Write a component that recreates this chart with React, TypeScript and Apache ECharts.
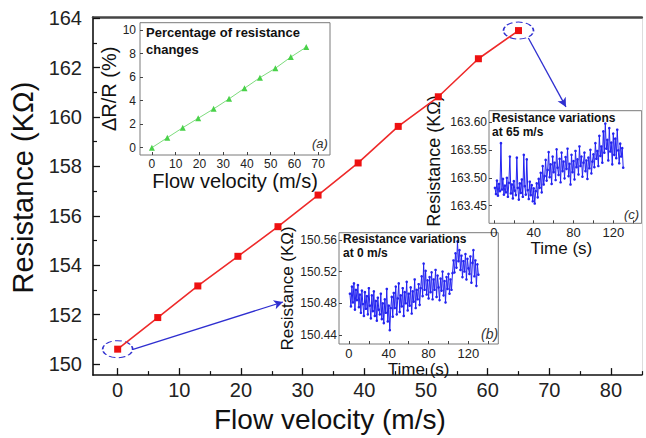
import React, { useEffect, useRef } from 'react';
import * as echarts from 'echarts';

// ---------- data ----------
const velocity = [0, 6.5, 13, 19.5, 26, 32.5, 39, 45.5, 52, 58.5, 65];
const resistance = [150.6, 151.88, 153.16, 154.36, 155.56, 156.84, 158.14, 159.62, 160.82, 162.36, 163.5];
const deltaPct = [0, 0.85, 1.7, 2.5, 3.3, 4.15, 5.05, 5.95, 6.75, 7.7, 8.55];

const resistanceAt0 = [
  150.492, 150.476, 150.501, 150.481, 150.505, 150.472, 150.497, 150.484, 150.503, 150.475,
  150.491, 150.468, 150.496, 150.479, 150.464, 150.494, 150.473, 150.489, 150.466, 150.499,
  150.477, 150.461, 150.490, 150.470, 150.495, 150.464, 150.483, 150.458, 150.487, 150.472,
  150.466, 150.492, 150.460, 150.480, 150.455, 150.485, 150.468, 150.498, 150.457, 150.477,
  150.446, 150.474, 150.488, 150.463, 150.493, 150.474, 150.501, 150.466, 150.486, 150.505,
  150.469, 150.490, 150.476, 150.499, 150.464, 150.494, 150.480, 150.507, 150.471, 150.492,
  150.477, 150.500, 150.467, 150.495, 150.482, 150.510, 150.474, 150.497, 150.485, 150.504,
  150.478, 150.499, 150.514, 150.489, 150.530, 150.497, 150.521, 150.491, 150.509, 150.486,
  150.513, 150.494, 150.519, 150.485, 150.510, 150.497, 150.522, 150.488, 150.515, 150.500,
  150.484, 150.511, 150.496, 150.520, 150.490, 150.508, 150.481, 150.513, 150.498, 150.517,
  150.492, 150.510, 150.497, 150.518, 150.534, 150.519, 150.543, 150.525, 150.558, 150.533,
  150.547, 150.522, 150.540, 150.513, 150.533, 150.520, 150.542, 150.510, 150.536, 150.524,
  150.517, 150.539, 150.506, 150.531, 150.547, 150.514, 150.534, 150.502, 150.529, 150.516,
];

const resistanceAt65 = [
  163.482, 163.471, 163.495, 163.468, 163.489, 163.476, 163.562, 163.479, 163.498, 163.470,
  163.486, 163.474, 163.500, 163.466, 163.491, 163.538, 163.472, 163.488, 163.463, 163.494,
  163.477, 163.469, 163.536, 163.482, 163.461, 163.490, 163.473, 163.497, 163.466, 163.541,
  163.485, 163.470, 163.533, 163.478, 163.462, 163.493, 163.469, 163.487, 163.458, 163.481,
  163.454, 163.476, 163.490, 163.465, 163.498, 163.482, 163.509, 163.474, 163.521, 163.488,
  163.503, 163.532, 163.495, 163.514, 163.546, 163.501, 163.524, 163.489, 163.538, 163.510,
  163.527, 163.496, 163.551, 163.518, 163.505, 163.534, 163.492, 163.545, 163.512, 163.529,
  163.499, 163.537, 163.516, 163.552, 163.503, 163.525, 163.488, 163.541, 163.510, 163.530,
  163.497, 163.548, 163.519, 163.533, 163.506, 163.556, 163.521, 163.538, 163.502, 163.527,
  163.545, 163.512, 163.531, 163.498, 163.536, 163.517, 163.550, 163.508, 163.529, 163.542,
  163.519, 163.562, 163.534, 163.548, 163.521, 163.575, 163.539, 163.556, 163.527, 163.583,
  163.545, 163.597, 163.552, 163.568, 163.531, 163.589, 163.547, 163.563, 163.524, 163.579,
  163.541, 163.570, 163.535, 163.586, 163.549, 163.526, 163.561, 163.538, 163.553, 163.518,
];

// sampling clock (1 sample per second)
const sampleTimes = resistanceAt0.map((_, i) => i + 1);

// ---------- ticks ----------
const xMainTicks = [0, 10, 20, 30, 40, 50, 60, 70, 80];
const xMainMinor = [5, 15, 25, 35, 45, 55, 65, 75, 85];
const yMainTicks = [150, 152, 154, 156, 158, 160, 162, 164];
const yMainMinor = [151, 153, 155, 157, 159, 161, 163];
const xATicks = [0, 10, 20, 30, 40, 50, 60, 70];
const yATicks = [0, 2, 4, 6, 8, 10];
const timeLabels = [0, 40, 80, 120];
const timeTicks = [0, 20, 40, 60, 80, 100, 120, 140];
const yBTicks = [150.44, 150.48, 150.52, 150.56];
const yCTicks = [163.45, 163.5, 163.55, 163.6];

// annotation arrows (data coordinates of the main plot)
const arrowLinks = [
  [[2.5, 150.59], [26.8, 152.51]],
  [[66.6, 163.2], [72.7, 160.41]],
];

const FONT = 'Liberation Sans, Arial, Helvetica, sans-serif';
const BLUE = '#2424f0';
const ANNOT = '#2f2fd0';

function insetX(gridIndex: number, min: number, max: number, labels: number[], ticks: number[], name: string, nameSize: number, nameGap: number, labelSize: number, padRight = 0) {
  return {
    gridIndex, type: 'value', min, max, position: 'bottom',
    axisLine: { show: false, onZero: false },
    splitLine: { show: false },
    axisTick: { show: true, inside: true, length: 3, customValues: ticks, lineStyle: { color: '#444', width: 1 } },
    axisLabel: { customValues: labels, fontSize: labelSize, color: '#222', margin: 3, fontFamily: FONT },
    name, nameLocation: 'middle', nameGap,
    nameTextStyle: { fontSize: nameSize, color: '#111', fontFamily: FONT, padding: [0, padRight, 0, 0] },
  };
}

function insetY(gridIndex: number, min: number, max: number, ticks: number[], name: string, nameSize: number, nameGap: number, labelSize: number, decimals: number, padLeft = 0, labelMargin = 3) {
  return {
    gridIndex, type: 'value', min, max, position: 'left',
    axisLine: { show: false, onZero: false },
    splitLine: { show: false },
    axisTick: { show: true, inside: true, length: 3, customValues: ticks, lineStyle: { color: '#444', width: 1 } },
    axisLabel: {
      customValues: ticks, fontSize: labelSize, color: '#222', margin: labelMargin, fontFamily: FONT,
      formatter: (v: number) => v.toFixed(decimals),
    },
    name, nameLocation: 'middle', nameGap,
    nameTextStyle: { fontSize: nameSize, color: '#111', fontFamily: FONT, padding: [0, 0, 0, padLeft] },
  };
}

function buildOption() {
  const insetGrid = (left: number, top: number, width: number, height: number) => ({
    left, top, width, height, show: true, borderColor: '#7a7a7a', borderWidth: 1, backgroundColor: 'rgba(0,0,0,0)',
  });
  const last = velocity.length - 1;
  return {
    animation: false,
    backgroundColor: '#ffffff',
    textStyle: { fontFamily: FONT },
    title: [
      { text: 'Percentage of resistance\nchanges', left: 146, top: 23.5, padding: 0,
        textStyle: { fontSize: 13, fontWeight: 'bold', lineHeight: 17, color: '#111', fontFamily: FONT } },
      { text: 'Resistance variations\nat 0 m/s', left: 343, top: 231.5, padding: 0,
        textStyle: { fontSize: 12, fontWeight: 'bold', lineHeight: 14.5, color: '#111', fontFamily: FONT } },
      { text: 'Resistance variations\nat 65 m/s', left: 492, top: 111, padding: 0,
        textStyle: { fontSize: 12, fontWeight: 'bold', lineHeight: 14, color: '#111', fontFamily: FONT } },
      { text: '(a)', left: 312, top: 137, padding: 0,
        textStyle: { fontSize: 13, fontStyle: 'italic', fontWeight: 'normal', color: '#333', fontFamily: FONT } },
      { text: '(b)', left: 481, top: 327, padding: 0,
        textStyle: { fontSize: 14, fontStyle: 'italic', fontWeight: 'normal', color: '#333', fontFamily: FONT } },
      { text: '(c)', left: 624, top: 208, padding: 0,
        textStyle: { fontSize: 13, fontStyle: 'italic', fontWeight: 'normal', color: '#333', fontFamily: FONT } },
    ],
    grid: [
      { left: 93, top: 17, width: 548.8, height: 363, show: false },
      insetGrid(140, 22.7, 190, 132.3),
      insetGrid(339, 232.7, 159.3, 111.3),
      insetGrid(489, 110.7, 152.7, 112.6),
    ],
    xAxis: [
      {
        gridIndex: 0, type: 'value', min: -4, max: 85, position: 'bottom',
        axisLine: { show: true, onZero: false, lineStyle: { color: '#111', width: 1.6 } },
        splitLine: { show: false },
        axisTick: { show: true, inside: true, length: 7, customValues: xMainTicks, lineStyle: { color: '#111', width: 1.3 } },
        axisLabel: { customValues: xMainTicks, fontSize: 20, color: '#222', margin: 5, fontFamily: FONT },
        name: 'Flow velocity (m/s)', nameLocation: 'middle', nameGap: 27,
        nameTextStyle: { fontSize: 28, color: '#111', fontFamily: FONT, padding: [0, 75, 0, 0] },
      },
      {
        gridIndex: 0, type: 'value', min: -4, max: 85, position: 'bottom',
        axisLine: { show: false, onZero: false }, splitLine: { show: false }, axisLabel: { show: false },
        axisTick: { show: true, inside: true, length: 4, customValues: xMainMinor, lineStyle: { color: '#111', width: 1.2 } },
      },
      {
        gridIndex: 0, type: 'value', min: -4, max: 85, position: 'top',
        axisLine: { show: true, onZero: false, lineStyle: { color: '#454545', width: 2.5 } },
        splitLine: { show: false }, axisLabel: { show: false }, axisTick: { show: false },
      },
      insetX(1, -5, 75, xATicks, xATicks, 'Flow velocity (m/s)', 20, 14, 12),
      insetX(2, -10, 150, timeLabels, timeTicks, 'Time (s)', 17, 8, 13),
      insetX(3, -5, 148.6, timeLabels, timeTicks, 'Time (s)', 17, 10, 13, 8),
    ],
    yAxis: [
      {
        gridIndex: 0, type: 'value', min: 149.55, max: 164.05, position: 'left',
        axisLine: { show: true, onZero: false, lineStyle: { color: '#111', width: 1.6 } },
        splitLine: { show: false },
        axisTick: { show: true, inside: true, length: 7, customValues: yMainTicks, lineStyle: { color: '#111', width: 1.3 } },
        axisLabel: { customValues: yMainTicks, fontSize: 20, color: '#222', margin: 11, fontFamily: FONT },
        name: 'Resistance (KΩ)', nameLocation: 'middle', nameGap: 53,
        nameTextStyle: { fontSize: 29, color: '#111', fontFamily: FONT, padding: [0, 0, 0, 17] },
      },
      {
        gridIndex: 0, type: 'value', min: 149.55, max: 164.05, position: 'left',
        axisLine: { show: false, onZero: false }, splitLine: { show: false }, axisLabel: { show: false },
        axisTick: { show: true, inside: true, length: 4, customValues: yMainMinor, lineStyle: { color: '#111', width: 1.2 } },
      },
      {
        gridIndex: 0, type: 'value', min: 149.55, max: 164.05, position: 'right',
        axisLine: { show: true, onZero: false, lineStyle: { color: '#dddddd', width: 1 } },
        splitLine: { show: false }, axisLabel: { show: false }, axisTick: { show: false },
      },
      insetY(1, -0.62, 10.62, yATicks, 'ΔR/R (%)', 20, 19, 12, 0, 0, 4),
      insetY(2, 150.4286, 150.569, yBTicks, 'Resistance (KΩ)', 17, 39, 12, 2, 0, 2),
      insetY(3, 163.4186, 163.62, yCTicks, 'Resistance (KΩ)', 18, 46, 12, 2, 12, 2),
    ],
    series: [
      {
        type: 'line', xAxisIndex: 0, yAxisIndex: 0,
        data: velocity.map((v, i) => [v, resistance[i]]),
        symbol: 'rect', symbolSize: 7,
        lineStyle: { color: '#ee2a2a', width: 1.6 },
        itemStyle: { color: '#ee1111' },
        z: 5,
        markPoint: {
          silent: true,
          symbol: 'path://M0 10A10 10 0 1 1 20 10A10 10 0 1 1 0 10Z',
          symbolSize: [30, 17],
          itemStyle: { color: 'rgba(0,0,0,0)', borderColor: ANNOT, borderWidth: 1.3, borderType: 'dashed' },
          label: { show: false },
          data: [
            { coord: [velocity[0], resistance[0]] },
            { coord: [velocity[last], resistance[last]] },
          ],
        },
        markLine: {
          silent: true,
          symbol: ['none', 'arrow'],
          symbolSize: [7, 9],
          lineStyle: { color: ANNOT, width: 1.3, type: 'solid' },
          label: { show: false },
          data: arrowLinks.map(([a, b]) => [{ coord: a }, { coord: b }]),
        },
      },
      {
        type: 'line', xAxisIndex: 3, yAxisIndex: 3,
        data: velocity.map((v, i) => [v, deltaPct[i]]),
        symbol: 'triangle', symbolSize: 6,
        lineStyle: { color: '#7ddc7d', width: 1 },
        itemStyle: { color: '#49d149' },
      },
      {
        type: 'line', xAxisIndex: 4, yAxisIndex: 4,
        data: sampleTimes.map((t, i) => [t, resistanceAt0[i]]),
        symbol: 'circle', symbolSize: 2.6, showAllSymbol: true,
        lineStyle: { color: BLUE, width: 1 },
        itemStyle: { color: BLUE },
      },
      {
        type: 'line', xAxisIndex: 5, yAxisIndex: 5,
        data: sampleTimes.map((t, i) => [t, resistanceAt65[i]]),
        symbol: 'circle', symbolSize: 2.6, showAllSymbol: true,
        lineStyle: { color: BLUE, width: 1 },
        itemStyle: { color: BLUE },
      },
    ],
  };
}

export default function App() {
  const ref = useRef<HTMLDivElement>(null);
  useEffect(() => {
    document.body.style.margin = '0';
    const chart = echarts.init(ref.current as HTMLDivElement, null, { renderer: 'svg' });
    chart.setOption(buildOption() as any);
    return () => chart.dispose();
  }, []);
  return (
    <div
      ref={ref}
      style={{ width: 646, height: 438, position: 'absolute', left: 0, top: 0, background: '#fff' }}
    />
  );
}
